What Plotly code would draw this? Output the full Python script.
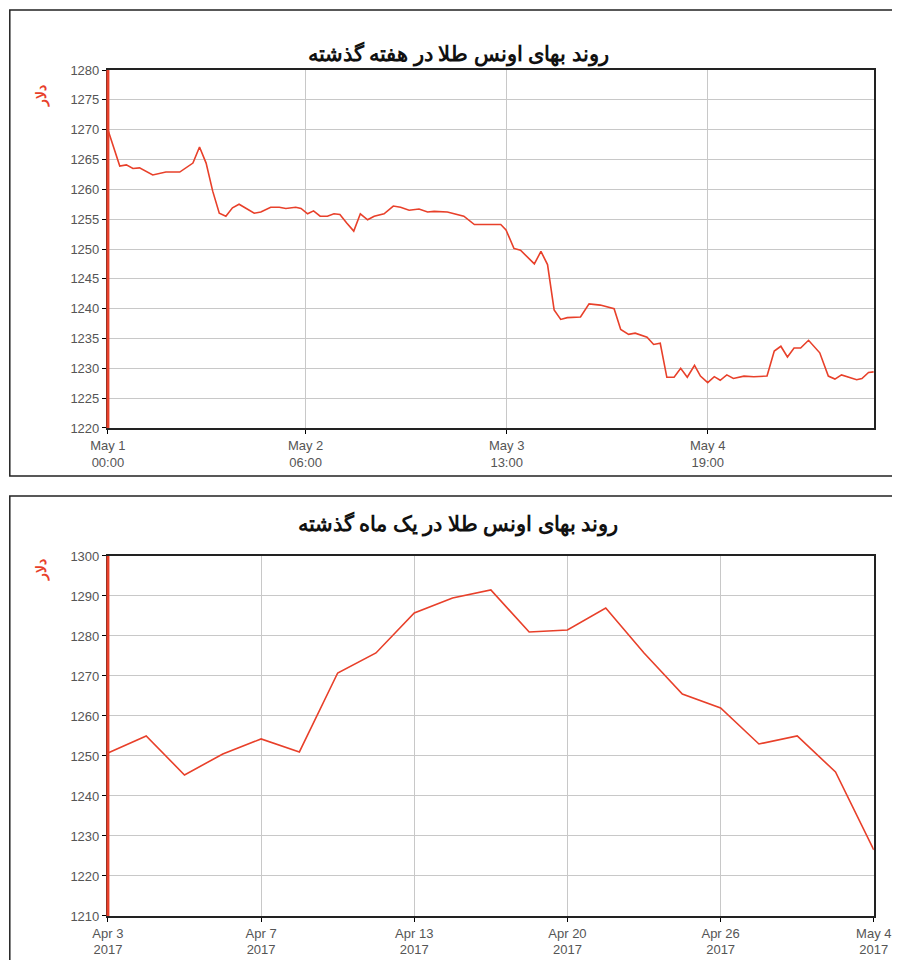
import plotly.graph_objects as go

# weekly chart: hours since May 1 00:00
week_hours = [0, 1.8, 2.8, 3.8, 4.8, 6.8, 8.8, 10.9, 12.9, 13.9, 14.9, 15.9, 16.9, 17.9, 18.9, 19.9,
              21, 22.2, 23.2, 24.7, 26, 27, 28.5, 29.3, 30.3, 31.2, 32.2, 33.3, 34.3, 35.2, 36.2, 37.3,
              38.3, 39.4, 40.4, 41.9, 43.3, 44.4, 45.7, 47.2, 48.5, 49.5, 51.5, 52.8, 54, 55.6, 59.6,
              60.4, 61.6, 62.6, 64.7, 65.7, 66.7, 67.7, 68.7, 69.7, 71.7, 73, 74.7, 76.8, 77.8, 79,
              80, 81.8, 82.8, 83.8, 84.8, 85.9, 86.9, 87.9, 89, 89.9, 91, 92, 92.9, 93.9, 94.9, 96.5,
              98, 100, 101.1, 102.1, 103.1, 104.1, 105.1, 106.3, 108, 109.3, 110.3, 111.3, 113.6,
              114.4, 115.4, 116.2]
week_price = [1270, 1263.9, 1264.1, 1263.5, 1263.6, 1262.4, 1262.9, 1262.9, 1264.4, 1267.1, 1264.4,
              1259.7, 1256.0, 1255.5, 1256.9, 1257.5, 1256.8, 1256.0, 1256.2, 1257.0, 1257.0, 1256.8,
              1257.0, 1256.8, 1255.9, 1256.4, 1255.5, 1255.5, 1255.9, 1255.8, 1254.4, 1253.0, 1255.9,
              1254.9, 1255.5, 1255.9, 1257.2, 1257.0, 1256.5, 1256.7, 1256.2, 1256.3, 1256.2, 1255.8,
              1255.5, 1254.1, 1254.1, 1253.2, 1250.1, 1249.8, 1247.5, 1249.6, 1247.4, 1239.8, 1238.2,
              1238.5, 1238.6, 1240.8, 1240.6, 1240.0, 1236.5, 1235.7, 1235.9, 1235.2, 1234.0, 1234.2,
              1228.5, 1228.5, 1230.0, 1228.5, 1230.5, 1228.7, 1227.6, 1228.6, 1228.0, 1228.9, 1228.3,
              1228.7, 1228.6, 1228.7, 1232.9, 1233.7, 1231.9, 1233.4, 1233.4, 1234.7, 1232.6, 1228.7,
              1228.2, 1228.9, 1228.1, 1228.3, 1229.3, 1229.4]
week_tickvals = [0, 30, 60.5, 91]
week_ticktext = ['May 1<br>00:00', 'May 2<br>06:00', 'May 3<br>13:00', 'May 4<br>19:00']

# monthly chart: trading days
month_dates = ['Apr 3', 'Apr 4', 'Apr 5', 'Apr 6', 'Apr 7', 'Apr 10', 'Apr 11', 'Apr 12', 'Apr 13',
               'Apr 17', 'Apr 18', 'Apr 19', 'Apr 20', 'Apr 21', 'Apr 24', 'Apr 25', 'Apr 26',
               'Apr 27', 'Apr 28', 'May 2', 'May 4']
month_price = [1250.75, 1255, 1245.25, 1250.5, 1254.25, 1251, 1270.75, 1275.75, 1285.75, 1289.5,
               1291.5, 1281, 1281.5, 1287, 1275.75, 1265.5, 1262, 1253, 1255, 1246, 1226.5]
month_ticks = [0, 4, 8, 12, 16, 20]

red = '#e8402a'
fig = go.Figure()
fig.add_trace(go.Scatter(x=week_hours, y=week_price, mode='lines', line=dict(color=red, width=1.6),
                         xaxis='x', yaxis='y', showlegend=False, cliponaxis=True))
fig.add_trace(go.Scatter(x=list(range(len(month_dates))), y=month_price, mode='lines',
                         line=dict(color=red, width=1.6), xaxis='x2', yaxis='y2', showlegend=False))

ax = dict(showgrid=True, gridcolor='#c8c8c8', gridwidth=1, zeroline=False, ticks='outside',
          ticklen=4, tickcolor='#000', tickfont=dict(family='Arial', size=13, color='#555'),
          showline=True, linecolor='#222', linewidth=2, mirror=True)
fig.update_layout(
    width=900, height=960, paper_bgcolor='white', plot_bgcolor='white',
    margin=dict(l=0, r=0, t=0, b=0, autoexpand=False),
    xaxis=dict(ax, domain=[0.111, 0.962], range=[0, 116.2], tickvals=week_tickvals,
               ticktext=week_ticktext, anchor='y', automargin=False),
    yaxis=dict(ax, domain=[0.5625, 0.9354], range=[1220, 1280], dtick=5, anchor='x', automargin=False),
    xaxis2=dict(ax, domain=[0.111, 0.962], range=[0, 20],
                tickvals=month_ticks, ticktext=[month_dates[i] + '<br>2017' for i in month_ticks],
                anchor='y2', automargin=False),
    yaxis2=dict(ax, domain=[0.0542, 0.4292], range=[1210, 1300], dtick=10, anchor='x2',
                automargin=False),
)
# red left axis lines
for yd in ([0.5625, 0.9354], [0.0542, 0.4292]):
    fig.add_shape(type='line', xref='paper', yref='paper', x0=0.111, x1=0.111, y0=yd[0], y1=yd[1],
                  line=dict(color=red, width=3))
# panel frames
fig.add_shape(type='rect', xref='paper', yref='paper', x0=0.002, x1=0.998, y0=1 - 468 / 960,
              y1=1 - 2 / 960, line=dict(color='#222', width=1.5))
fig.add_shape(type='rect', xref='paper', yref='paper', x0=0.002, x1=0.998, y0=1 - 956 / 960,
              y1=1 - 488 / 960, line=dict(color='#222', width=1.5))

title_font = dict(family='Noto Sans', size=21, color='#111')
fig.add_annotation(text='<b>روند بهای اونس طلا در هفته گذشته</b>', x=0.5, y=1 - 29 / 960,
                   xref='paper', yref='paper', showarrow=False, font=title_font)
fig.add_annotation(text='<b>روند بهای اونس طلا در یک ماه گذشته</b>', x=0.5, y=1 - 515 / 960,
                   xref='paper', yref='paper', showarrow=False, font=title_font)
for yy in (75, 562):
    fig.add_annotation(text='<b>دلار</b>', x=20 / 900, y=1 - yy / 960, xref='paper', yref='paper',
                       showarrow=False, textangle=-90, font=dict(family='Noto Sans', size=14, color=red))

fig.write_html("out.html")
